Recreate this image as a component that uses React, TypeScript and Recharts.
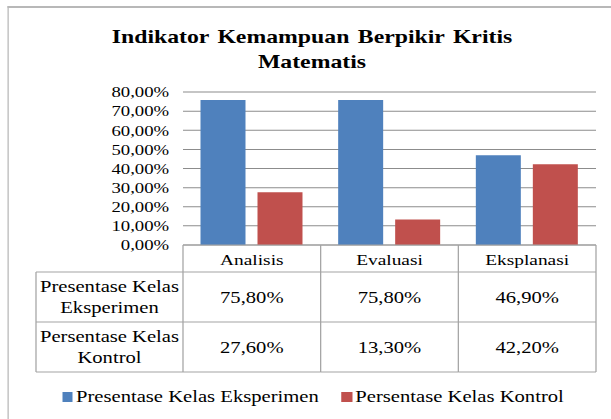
import React from "react";
import { Bar, BarChart, CartesianGrid, Legend, XAxis, YAxis } from "recharts";

const categories = ["Analisis", "Evaluasi", "Eksplanasi"];
const eksperimen = [75.8, 75.8, 46.9];
const kontrol = [27.6, 13.3, 42.2];
const seriesNames = ["Presentase Kelas Eksperimen", "Persentase Kelas Kontrol"];
const seriesColors = ["#4F81BD", "#C0504D"];
const yTicks = [0, 10, 20, 30, 40, 50, 60, 70, 80];
const title = "Indikator Kemampuan Berpikir Kritis Matematis";

// the source picture is stretched sideways, so lay out narrow and scale x
const S = 1.25;
const W = 611 / S;
const PLOT_LEFT = 183 / S;
const PLOT_RIGHT = 596 / S;
const BAND = (PLOT_RIGHT - PLOT_LEFT) / categories.length;
const HEAD_W = (183 - 36) / S;
const CAT_H = 27;
const ROW_H = 50;
const X_AXIS_H = 130;
const LEGEND_H = 18;
const LINE = "#a3a3a3";
const FONT = "'Liberation Serif', 'Times New Roman', serif";

const data = categories.map((cat, i) => ({
  cat,
  eksperimen: eksperimen[i],
  kontrol: kontrol[i],
}));
const rows = [eksperimen, kontrol];

const pct = (v: number) => v.toFixed(2).replace(".", ",") + "%";

// data table under the plot, one column per category tick
const TableTick = (props: any) => {
  const { x, y, payload, index } = props;
  const left = x - BAND / 2;
  const right = x + BAND / 2;
  const bottom = y + CAT_H + ROW_H * rows.length;
  const lineLeft = index === 0 ? left - HEAD_W : left;
  return (
    <g style={{ fontFamily: FONT }} fill="#000">
      <line x1={left} y1={y} x2={right} y2={y} stroke={LINE} />
      <line x1={right} y1={y} x2={right} y2={bottom} stroke={LINE} />
      {index === 0 && <line x1={left} y1={y} x2={left} y2={bottom} stroke={LINE} />}
      {index === 0 && (
        <line x1={lineLeft} y1={y + CAT_H} x2={lineLeft} y2={bottom} stroke={LINE} />
      )}
      {[0, 1, 2].map((r) => (
        <line
          key={r}
          x1={lineLeft}
          x2={right}
          y1={y + CAT_H + ROW_H * r}
          y2={y + CAT_H + ROW_H * r}
          stroke={LINE}
        />
      ))}
      <text x={x} y={y + CAT_H / 2 + 1} dy="0.35em" textAnchor="middle" fontSize={15.5}>
        {payload.value}
      </text>
      {rows.map((r, ri) => (
        <text
          key={ri}
          x={x}
          y={y + CAT_H + ROW_H * ri + ROW_H / 2}
          dy="0.35em"
          textAnchor="middle"
          fontSize={16.5}
        >
          {pct(r[index])}
        </text>
      ))}
      {index === 0 &&
        seriesNames.map((name, ri) => {
          const words = name.split(" ");
          const lines = [words.slice(0, -1).join(" "), words[words.length - 1]];
          const cy = y + CAT_H + ROW_H * ri + ROW_H / 2;
          return lines.map((ln, li) => (
            <text
              key={ri + "-" + li}
              x={left - HEAD_W / 2}
              y={cy + (li === 0 ? -10.5 : 10.5)}
              dy="0.35em"
              textAnchor="middle"
              fontSize={16.5}
            >
              {ln}
            </text>
          ));
        })}
    </g>
  );
};

const LegendBox = (props: any) => {
  const items = [...(props.payload || [])].sort(
    (a: any, b: any) => seriesNames.indexOf(a.value) - seriesNames.indexOf(b.value)
  );
  return (
    <div
      style={{
        display: "flex",
        alignItems: "center",
        height: LEGEND_H,
        fontFamily: FONT,
        fontSize: 16.5,
      }}
    >
      {items.map((it: any, i: number) => (
        <div
          key={i}
          style={{ display: "flex", alignItems: "center", marginRight: i === 0 ? 18 : 0 }}
        >
          <span
            style={{
              display: "inline-block",
              width: 11 / S,
              height: 10,
              background: it.color,
              marginRight: 3 / S,
            }}
          />
          <span style={{ lineHeight: LEGEND_H + "px", whiteSpace: "nowrap" }}>{it.value}</span>
        </div>
      ))}
    </div>
  );
};

export default function App() {
  return (
    <div
      style={{
        position: "absolute",
        left: 0,
        top: 0,
        width: 611,
        height: 419,
        overflow: "hidden",
        background: "#fff",
        fontFamily: FONT,
      }}
    >
      <div
        style={{
          position: "relative",
          width: W,
          height: 419,
          transform: `scaleX(${S})`,
          transformOrigin: "0 0",
        }}
      >
        <BarChart
          width={W}
          height={419}
          data={data}
          margin={{
            top: 92,
            right: W - PLOT_RIGHT,
            bottom: 174 - X_AXIS_H - LEGEND_H,
            left: 0,
          }}
          barSize={45 / S}
          barGap={12 / S}
        >
          <CartesianGrid horizontal vertical={false} stroke="#8c8c8c" />
          <YAxis
            width={PLOT_LEFT}
            domain={[0, 80]}
            ticks={yTicks}
            tickFormatter={pct}
            axisLine={false}
            tickLine={false}
            tickSize={0}
            tickMargin={11}
            interval={0}
            tick={{ fontSize: 15, fill: "#000", fontFamily: FONT }}
          />
          <XAxis
            dataKey="cat"
            height={X_AXIS_H}
            axisLine={false}
            tickLine={false}
            tickSize={0}
            tickMargin={0}
            interval={0}
            tick={<TableTick />}
          />
          <Bar dataKey="eksperimen" name={seriesNames[0]} fill={seriesColors[0]} isAnimationActive={false} />
          <Bar dataKey="kontrol" name={seriesNames[1]} fill={seriesColors[1]} isAnimationActive={false} />
          <Legend
            verticalAlign="bottom"
            content={<LegendBox />}
            wrapperStyle={{ position: "absolute", left: 62 / S, top: 388, width: "auto", height: LEGEND_H }}
          />
        </BarChart>
        <div
          style={{
            position: "absolute",
            left: 312 / S - 175,
            top: 24,
            width: 350,
            textAlign: "center",
            fontFamily: FONT,
            fontWeight: "bold",
            fontSize: 19,
            lineHeight: "25px",
            wordSpacing: 2,
          }}
        >
          {title}
        </div>
        <div
          style={{
            position: "absolute",
            left: 7 / S,
            top: 6,
            width: 1000,
            height: 1000,
            borderTop: "2px solid #b8b8b8",
            borderLeft: `${2 / S}px solid #b8b8b8`,
            pointerEvents: "none",
          }}
        />
      </div>
    </div>
  );
}
